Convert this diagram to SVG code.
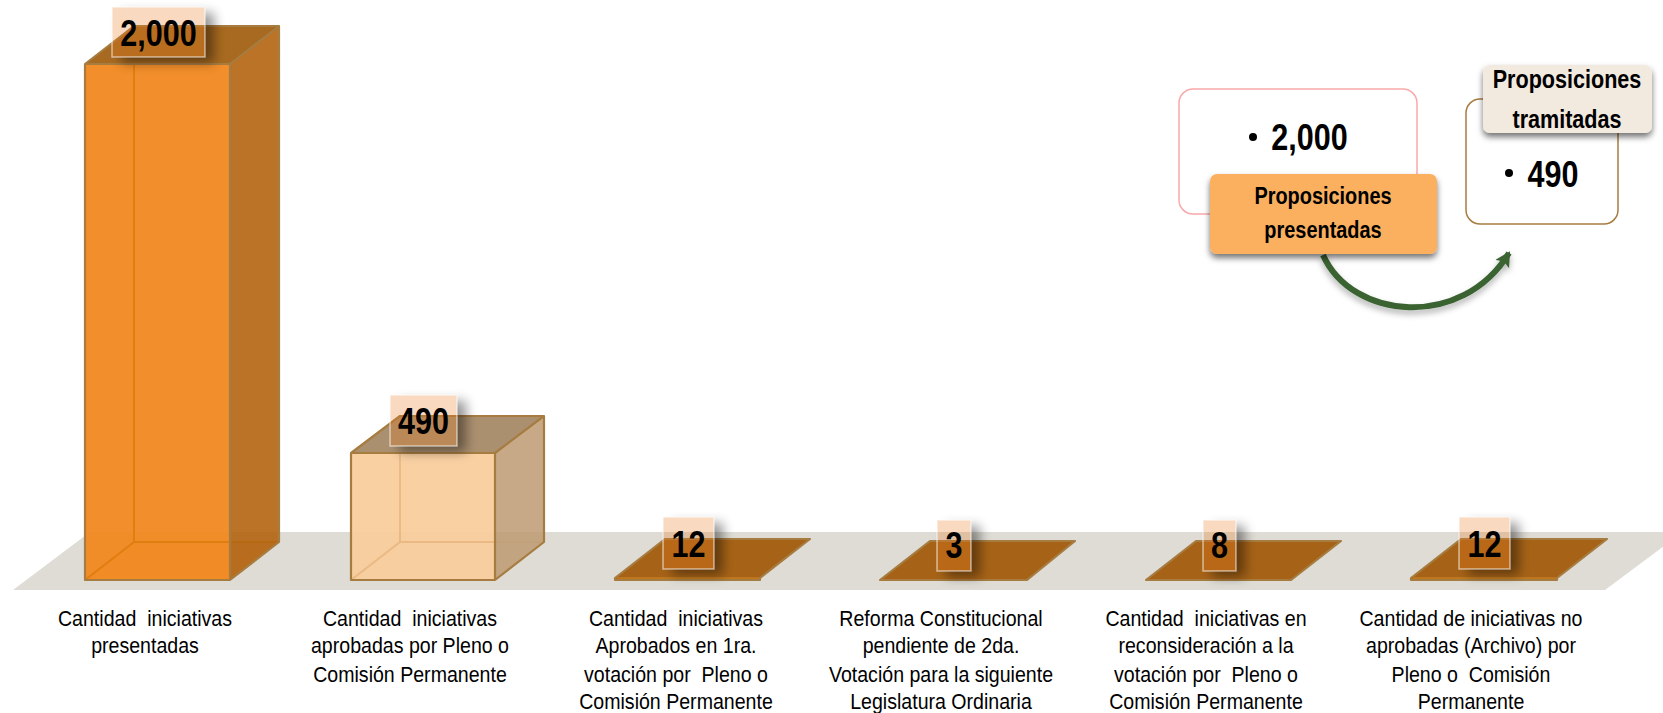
<svg xmlns="http://www.w3.org/2000/svg" width="1663" height="713" viewBox="0 0 1663 713">
<defs>
<style>
text{font-family:"Liberation Sans",Arial,sans-serif;text-anchor:middle;fill:#000;white-space:pre;transform-box:fill-box;transform-origin:center}
.cap{font-size:22px;transform:scaleX(.89)}
.num{font-size:37px;font-weight:700;transform:scaleX(.825)}
.head{font-size:24px;font-weight:700;transform:scaleX(.83)}
.big{font-size:26px}
.lab{fill:#e8761a;fill-opacity:.27;stroke:#fff;stroke-opacity:.55;stroke-width:1.5}
.sh{fill:#000;filter:url(#outer)}
.edge{stroke:#a67c41;stroke-width:2.2;stroke-linejoin:round}
.o-front{fill:#f18820;fill-opacity:.95}.o-side{fill:#b2640f;fill-opacity:.9}.o-top{fill:#a86a20}.o-in{fill:none;stroke:#d97706;stroke-opacity:.7;stroke-width:2}
.o-floor{fill:#ea7f14;fill-opacity:.3}
.p-front{fill:#f9cc9b;fill-opacity:.93}.p-side{fill:#bd9a72;fill-opacity:.85}.p-top{fill:#ab9070}.p-in{fill:none;stroke:#d99a5c;stroke-opacity:.4;stroke-width:2}
.flat{fill:#a66317;stroke:#a67c41;stroke-width:2.2;stroke-linejoin:round}
.lip{fill:none;stroke:#c47d22;stroke-width:1.5}
.card{fill:#fff;stroke-width:1.5}
.box{filter:url(#drop)}
</style>
<filter id="outer" x="-80%" y="-80%" width="260%" height="260%"><feGaussianBlur in="SourceAlpha" stdDeviation="6"/><feOffset dx="9" dy="6"/><feComponentTransfer><feFuncA type="linear" slope=".42"/></feComponentTransfer><feComposite in2="SourceAlpha" operator="out"/></filter>
<filter id="drop" x="-20%" y="-20%" width="140%" height="150%"><feDropShadow dx="0" dy="4" stdDeviation="3" flood-color="#000" flood-opacity=".55"/></filter>
<filter id="arrowSh" x="-20%" y="-20%" width="140%" height="150%"><feDropShadow dx="0" dy="4" stdDeviation="3" flood-color="#000" flood-opacity=".3"/></filter>
<marker id="ah" markerUnits="userSpaceOnUse" markerWidth="20" markerHeight="20" refX="13" refY="8" orient="auto"><path d="M0 0L15 8L0 16L3 8Z" fill="#3b6331"/></marker>
</defs>
<rect width="1663" height="713" fill="#fff"/>
<polygon id="floor" points="90,532 1683,532 1605,590 13,590" fill="#dedcd5"/>

<g id="bar-presentadas">
<polygon class="o-top" points="85,64 134,26 279,26 230,64"/>
<polygon class="o-floor" points="85,580 134,542 279,542 230,580"/>
<rect class="o-front" x="85" y="64" width="145" height="516"/>
<path class="o-in" d="M134 64V542M134 542H279M134 542L85 580"/>
<polygon class="o-side" points="230,64 279,26 279,542 230,580"/>
<path class="edge" fill="none" d="M85 64L134 26H279L230 64ZM85 64V580H230V64M279 26V542L230 580"/>
<rect class="sh" x="112" y="7" width="93" height="50"/>
<rect class="lab" x="112" y="7" width="93" height="50"/>
<text class="num" x="158.500" y="46">2,000</text>
</g>

<g id="bar-aprobadas">
<polygon class="p-top" points="351,453 400,416 544,416 495,453"/>
<rect class="p-front" x="351" y="453" width="144" height="127"/>
<path class="p-in" d="M400 453V542M400 542H544M400 542L351 580"/>
<polygon class="p-side" points="495,453 544,416 544,542 495,580"/>
<path class="edge" fill="none" d="M351 453L400 416H544L495 453ZM351 453V580H495V453M544 416V542L495 580"/>
<rect class="sh" x="390" y="395" width="67" height="51"/>
<rect class="lab" x="390" y="395" width="67" height="51"/>
<text class="num" x="423.500" y="434">490</text>
</g>

<g id="bar-primera">
<polygon class="flat" points="615,578 665,539 810,539 760,578 760,580 615,580"/>
<path class="lip" d="M617 578H759"/>
<rect class="sh" x="663" y="517" width="51" height="52"/>
<rect class="lab" x="663" y="517" width="51" height="52"/>
<text class="num" x="688.500" y="557">12</text>
</g>

<g id="bar-pendiente">
<polygon class="flat" points="880,580 930,541 1075,541 1027,580"/>
<rect class="sh" x="937" y="520" width="34" height="51"/>
<rect class="lab" x="937" y="520" width="34" height="51"/>
<text class="num" x="954" y="558">3</text>
</g>

<g id="bar-reconsideracion">
<polygon class="flat" points="1146,580 1196,541 1341,541 1291,580"/>
<rect class="sh" x="1203" y="520" width="33" height="51"/>
<rect class="lab" x="1203" y="520" width="33" height="51"/>
<text class="num" x="1219.500" y="558">8</text>
</g>

<g id="bar-archivo">
<polygon class="flat" points="1411,578 1461,539 1607,539 1557,578 1557,580 1411,580"/>
<path class="lip" d="M1413 578H1556"/>
<rect class="sh" x="1459" y="517" width="51" height="52"/>
<rect class="lab" x="1459" y="517" width="51" height="52"/>
<text class="num" x="1484.500" y="557">12</text>
</g>

<g id="captions">
<text class="cap" x="145" y="626">Cantidad  iniciativas</text>
<text class="cap" x="145" y="653">presentadas</text>
<text class="cap" x="410" y="626">Cantidad  iniciativas</text>
<text class="cap" x="410" y="653">aprobadas por Pleno o</text>
<text class="cap" x="410" y="682">Comisión Permanente</text>
<text class="cap" x="676" y="626">Cantidad  iniciativas</text>
<text class="cap" x="676" y="653">Aprobados en 1ra.</text>
<text class="cap" x="676" y="682">votación por  Pleno o</text>
<text class="cap" x="676" y="709">Comisión Permanente</text>
<text class="cap" x="941" y="626">Reforma Constitucional</text>
<text class="cap" x="941" y="653">pendiente de 2da.</text>
<text class="cap" x="941" y="682">Votación para la siguiente</text>
<text class="cap" x="941" y="709">Legislatura Ordinaria</text>
<text class="cap" x="1206" y="626">Cantidad  iniciativas en</text>
<text class="cap" x="1206" y="653">reconsideración a la</text>
<text class="cap" x="1206" y="682">votación por  Pleno o</text>
<text class="cap" x="1206" y="709">Comisión Permanente</text>
<text class="cap" x="1471" y="626">Cantidad de iniciativas no</text>
<text class="cap" x="1471" y="653">aprobadas (Archivo) por</text>
<text class="cap" x="1471" y="682">Pleno o  Comisión</text>
<text class="cap" x="1471" y="709">Permanente</text>
</g>

<g id="connectors">
<path d="M1323 255C1352 320 1462 330 1509 253" fill="none" stroke="#3b6331" stroke-width="6" marker-end="url(#ah)" filter="url(#arrowSh)"/>
</g>

<g id="card-presentadas">
<rect class="card" x="1179" y="89" width="238" height="125" rx="14" stroke="#f9a9a9"/>
<circle cx="1253" cy="137" r="4"/>
<text class="num" x="1309.500" y="150">2,000</text>
</g>
<g id="head-presentadas">
<rect class="box" x="1210" y="174" width="227" height="80" rx="7" fill="#fbb061"/>
<text class="head" x="1323" y="204">Proposiciones</text>
<text class="head" x="1323" y="238">presentadas</text>
</g>
<g id="card-tramitadas">
<rect class="card" x="1466" y="99" width="152" height="125" rx="14" stroke="#a67c41"/>
<circle cx="1509" cy="173" r="4"/>
<text class="num" x="1553" y="187">490</text>
</g>
<g id="head-tramitadas">
<rect class="box" x="1483" y="65" width="169" height="68" rx="7" fill="#f2eadf"/>
<text class="head big" x="1567" y="88">Proposiciones</text>
<text class="head big" x="1567" y="128">tramitadas</text>
</g>
</svg>
